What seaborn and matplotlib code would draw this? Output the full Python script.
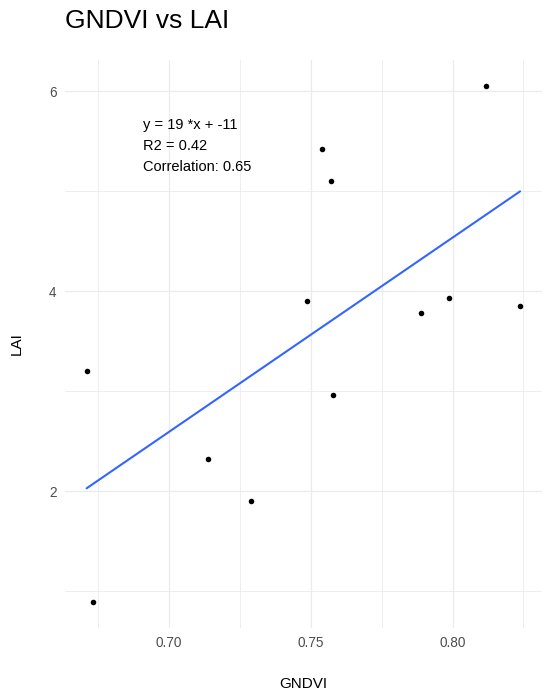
import seaborn as sns
import matplotlib.pyplot as plt
import pandas as pd
from matplotlib.ticker import MultipleLocator

# values
gndvi = [0.6710, 0.6731, 0.7139, 0.7291, 0.7488, 0.7580,
         0.7541, 0.7570, 0.8118, 0.7889, 0.7988, 0.8238]
lai = [3.20, 0.89, 2.32, 1.90, 3.90, 2.96,
       5.42, 5.10, 6.05, 3.78, 3.93, 3.85]
stats_lines = ["y = 19 *x + -11", "R2 = 0.42", "Correlation: 0.65"]

data = pd.DataFrame({"GNDVI": gndvi, "LAI": lai})

sns.set_style("white")
plt.rcParams['font.family'] = ['Liberation Sans', 'DejaVu Sans']

fig = plt.figure(figsize=(5.5, 7), dpi=100)
ax = fig.add_axes([0.118, 0.103, 0.867, 0.811])

sns.regplot(data=data, x="GNDVI", y="LAI", ci=None, ax=ax,
            scatter_kws={"s": 16, "color": "black", "alpha": 1,
                         "linewidths": 0, "zorder": 3},
            line_kws={"color": "#3366FF", "lw": 1.5, "zorder": 2})

# ggplot-like expansion of 5%
xr = max(gndvi) - min(gndvi)
yr = max(lai) - min(lai)
ax.set_xlim(min(gndvi) - 0.05 * xr, max(gndvi) + 0.05 * xr)
ax.set_ylim(min(lai) - 0.05 * yr, max(lai) + 0.05 * yr)

ax.xaxis.set_major_locator(MultipleLocator(0.05))
ax.xaxis.set_minor_locator(MultipleLocator(0.025))
ax.yaxis.set_major_locator(MultipleLocator(2))
ax.yaxis.set_minor_locator(MultipleLocator(1))
ax.xaxis.set_major_formatter(plt.FuncFormatter(lambda v, p: f"{v:.2f}"))
ax.yaxis.set_major_formatter(plt.FuncFormatter(lambda v, p: f"{v:.0f}"))

ax.grid(which="major", color="#EBEBEB", lw=0.9)
ax.grid(which="minor", color="#EBEBEB", lw=0.6)
ax.set_axisbelow(True)
for s in ax.spines.values():
    s.set_visible(False)
ax.tick_params(which="both", length=0, labelsize=9.8, labelcolor="#4D4D4D", pad=6)

ax.set_xlabel("GNDVI", fontsize=11, color="black", labelpad=19)
ax.set_ylabel("LAI", fontsize=11, color="black", labelpad=18)

for i, line in enumerate(stats_lines):
    ax.text(0.691, 5.66 - i * 0.21, line, fontsize=10.5, color="black",
            ha="left", va="center")

fig.text(0.118, 0.970, "GNDVI vs LAI", fontsize=19, color="black",
         ha="left", va="center")

plt.savefig("out.png", dpi=100)
